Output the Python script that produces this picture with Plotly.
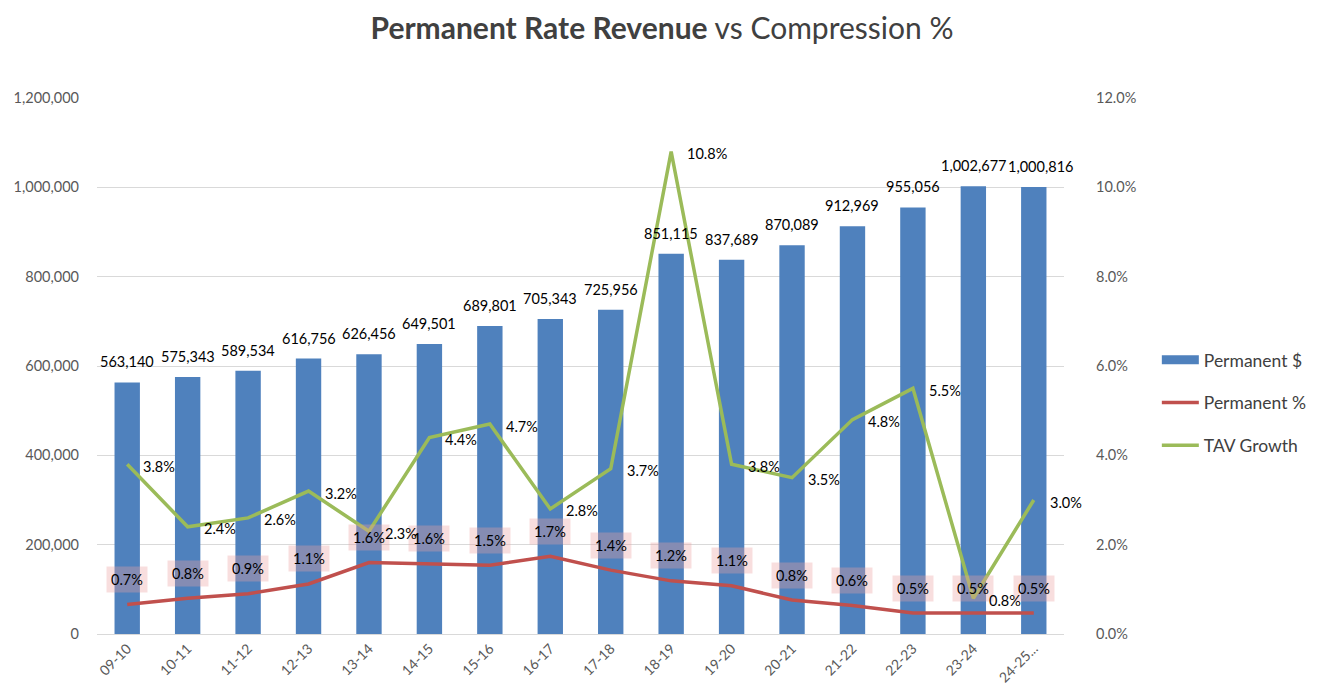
import plotly.graph_objects as go

categories = ["09-10", "10-11", "11-12", "12-13", "13-14", "14-15", "15-16", "16-17",
              "17-18", "18-19", "19-20", "20-21", "21-22", "22-23", "23-24", "24-25..."]
permanent_dollars = [563140, 575343, 589534, 616756, 626456, 649501, 689801, 705343,
                     725956, 851115, 837689, 870089, 912969, 955056, 1002677, 1000816]
permanent_pct = [0.0066, 0.0080, 0.0090, 0.0112, 0.0160, 0.0157, 0.0154, 0.0174,
                 0.0143, 0.0119, 0.0108, 0.0076, 0.0064, 0.0047, 0.0047, 0.0047]
tav_growth = [0.038, 0.024, 0.026, 0.032, 0.023, 0.044, 0.047, 0.028,
              0.037, 0.108, 0.038, 0.035, 0.048, 0.055, 0.008, 0.030]
left_ticks = [0, 200000, 400000, 600000, 800000, 1000000, 1200000]
right_ticks = [0, 0.02, 0.04, 0.06, 0.08, 0.10, 0.12]

BLUE = "#4F81BD"
RED = "#C0504D"
GREEN = "#9BBB59"
FONT = "Lato"
LBL = 14.5

fig = go.Figure()
fig.add_trace(go.Bar(
    x=categories, y=permanent_dollars, name="Permanent $",
    marker=dict(color=BLUE, line=dict(width=0)),
    showlegend=False, yaxis="y",
))
# legend swatch for the bar series (wide rectangle like the reference)
fig.add_trace(go.Scatter(
    x=[None], y=[None], name="Permanent $", mode="lines",
    line=dict(color=BLUE, width=9), legendgroup="a", yaxis="y",
))
fig.add_trace(go.Scatter(
    x=categories, y=permanent_pct, name="Permanent %", mode="lines",
    line=dict(color=RED, width=3.5), legendgroup="b", yaxis="y2",
))
fig.add_trace(go.Scatter(
    x=categories, y=tav_growth, name="TAV Growth", mode="lines",
    line=dict(color=GREEN, width=3.5), legendgroup="c", yaxis="y2",
))

annotations = []
n = len(categories)
for i, (c, v) in enumerate(zip(categories, permanent_dollars)):
    annotations.append(dict(
        x=c, y=v, xref="x", yref="y", text=f"{v:,}", showarrow=False,
        yanchor="bottom", yshift=10, xshift=(7 if i == n - 1 else 0),
        font=dict(family=FONT, size=LBL, color="#000000"),
    ))
for c, v in zip(categories, permanent_pct):
    annotations.append(dict(
        x=c, y=v, xref="x", yref="y2", text=f"{v*100:.1f}%", showarrow=False,
        yshift=25, bgcolor="rgba(235,160,160,0.35)", borderpad=4,
        font=dict(family=FONT, size=LBL, color="#000000"),
    ))
for c, v in zip(categories, tav_growth):
    annotations.append(dict(
        x=c, y=v, xref="x", yref="y2", text=f"{v*100:.1f}%", showarrow=False,
        xanchor="left", xshift=14, yshift=-2,
        font=dict(family=FONT, size=LBL, color="#000000"),
    ))

fig.update_layout(
    width=1325, height=689,
    margin=dict(l=89, r=269, t=90, b=63, autoexpand=False),
    paper_bgcolor="white", plot_bgcolor="white",
    bargap=0.58,
    font=dict(family=FONT, color="#595959"),
    title=dict(
        text="<b>Permanent Rate Revenue</b> vs Compression %",
        x=(662 - 8) / 1325, xref="container", xanchor="center",
        y=1 - 20 / 689, yref="container", yanchor="middle",
        font=dict(family=FONT, size=30, color="#404040"),
    ),
    xaxis=dict(
        type="category", automargin=False,
        tickangle=-45, tickfont=dict(family=FONT, size=14, color="#595959"),
        showgrid=False, showline=True, linecolor="#d9d9d9", linewidth=1,
        ticks="", range=[-0.5, len(categories) - 0.5],
    ),
    yaxis=dict(
        range=[0, 1200000], tickvals=left_ticks, automargin=False,
        ticktext=[f"{t:,}" for t in left_ticks],
        tickfont=dict(family=FONT, size=14.5, color="#595959"),
        showgrid=True, gridcolor="#d9d9d9", gridwidth=1, zeroline=False,
        ticklabelstandoff=17, showline=False,
    ),
    yaxis2=dict(
        range=[0, 0.12], tickvals=right_ticks, automargin=False,
        ticktext=[f"{t*100:.1f}%" for t in right_ticks],
        tickfont=dict(family=FONT, size=14.5, color="#595959"),
        overlaying="y", side="right", showgrid=False, zeroline=False,
        ticklabelstandoff=31, showline=False,
    ),
    legend=dict(
        x=1.096, y=0.545, xanchor="left", yanchor="top",
        font=dict(family=FONT, size=17.5, color="#404040"),
        tracegroupgap=17, itemwidth=37,
    ),
    showlegend=True,
    annotations=annotations,
)

fig.write_html("out.html")
